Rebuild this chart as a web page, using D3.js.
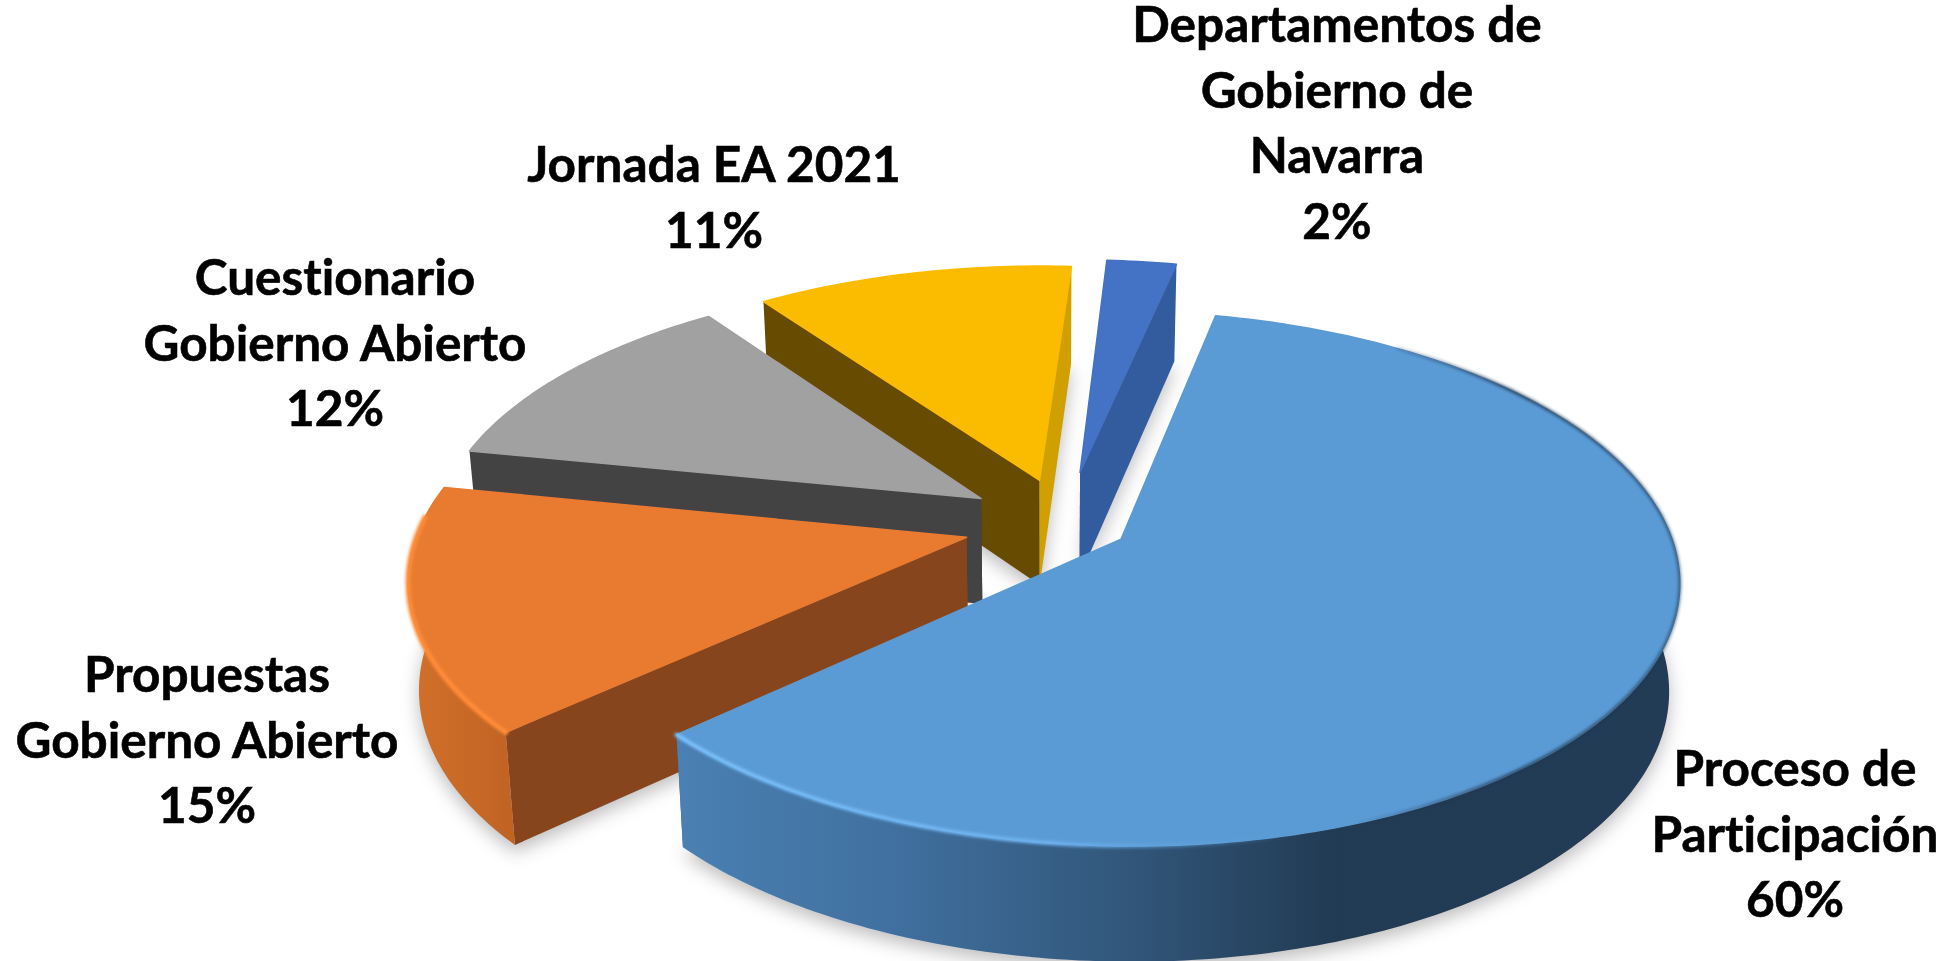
<!DOCTYPE html>
<html>
<head>
<meta charset="utf-8">
<script src="https://cdn.jsdelivr.net/npm/d3@7"></script>
<style>
  html, body { margin: 0; padding: 0; background: #fff; }
  svg { display: block; }
  text { font-family: Lato, "Open Sans", sans-serif; font-weight: 700; fill: #000; stroke: #000; stroke-width: 0.6; font-variant-ligatures: none; }
</style>
</head>
<body>
<div id="chart"></div>
<script>
// data, clockwise from the start of the big slice
const categories = ['Proceso de Participación', 'Propuestas Gobierno Abierto', 'Cuestionario Gobierno Abierto', 'Jornada EA 2021', 'Departamentos de Gobierno de Navarra'];
const shares = [59.8, 14.9, 12, 10.9, 2.4];
const labelLines = [
  ['Proceso de', 'Participación'],
  ['Propuestas', 'Gobierno Abierto'],
  ['Cuestionario', 'Gobierno Abierto'],
  ['Jornada EA 2021'],
  ['Departamentos de', 'Gobierno de', 'Navarra']
];

const topColors = ['#5b9bd5', '#e97b30', '#a1a1a1', '#fbbc00', '#4472c4'];
const startWall = ['#3b6a96', '#86451c', '#434343', '#664b00', '#335c9e'];
const endWall = ['#3b6a96', '#86451c', '#434343', '#cfa000', '#335c9e'];

// how far each slice is pulled out, in pie radii on the ground plane
const pullU = [0.125, -0.147, -0.124, -0.019, 0.055];
const pullV = [0.072, 0.065, -0.082, -0.154, -0.186];
// label anchor: centre x, first baseline
const labelX = [1795, 207, 335, 714, 1337];
const labelY = [786, 692, 295, 182, 42];

const width = 1950, height = 961;
const cx = 1050, cy = 520, rx = 562, ry = 264;
const persp = 0.15, depth = 106, depthPersp = 0.08, radius = 0.97, floorShrink = 0.983;
const lineGap = 65.5;

const svg = d3.select('#chart').append('svg').attr('width', width).attr('height', height);
const defs = svg.append('defs');
defs.append('filter').attr('id', 'soft').attr('x', '-20%').attr('y', '-20%').attr('width', '140%').attr('height', '140%')
  .append('feGaussianBlur').attr('stdDeviation', 9);
defs.append('filter').attr('id', 'edge').attr('x', '-5%').attr('y', '-5%').attr('width', '110%').attr('height', '110%')
  .append('feGaussianBlur').attr('stdDeviation', 1.6);

function hGradient(id, x1, x2, stops) {
  const g = defs.append('linearGradient').attr('id', id).attr('gradientUnits', 'userSpaceOnUse')
    .attr('x1', x1).attr('x2', x2).attr('y1', 0).attr('y2', 0);
  stops.forEach(s => g.append('stop').attr('offset', s[0]).attr('stop-color', s[1]).attr('stop-opacity', s.length > 2 ? s[2] : 1));
}
hGradient('wall0', 675, 1670, [[0, '#4a80b3'], [0.22, '#40709f'], [0.45, '#32577b'], [0.66, '#223b54'], [1, '#223c55']]);
hGradient('wall1', 410, 530, [[0, '#d2702a'], [1, '#bd6122']]);
hGradient('shine0', 675, 1300, [[0, '#7cc4ff'], [0.6, '#6fb3f0'], [1, '#5b9bd5', 0]]);
hGradient('shine1', 410, 530, [[0, '#ff8c38'], [1, '#ff8c38']]);
hGradient('rim0', 1350, 1670, [[0, '#1c3145', 0], [0.5, '#1c3145', 0.8], [1, '#1c3145', 0.6]]);

const x = d3.scaleLinear().domain([-1, 1]).range([cx - rx, cx + rx]);
const y = d3.scaleLinear().domain([-1, 1]).range([cy - ry, cy + ry]);

const pie = d3.pie().sort(null).startAngle(12.4 * Math.PI / 180).endAngle(372.4 * Math.PI / 180);
const arcs = pie(shares);
const line = d3.line();

// ground coordinates to the screen
function topPoint(u, v) {
  const k = 1 / (1 - persp * v);
  return [x(u * k), y(v * k)];
}
function bottomPoint(u, v) {
  const p = topPoint(u, v);
  return [cx + (p[0] - cx) * floorShrink, p[1] + depth / (1 - depthPersp * v)];
}
function rim(i, a0, a1, fn) {
  const n = Math.max(4, Math.round((a1 - a0) * 60));
  return d3.range(n + 1).map(j => {
    const a = a0 + (a1 - a0) * j / n;
    return fn(pullU[i] + radius * Math.sin(a), pullV[i] - radius * Math.cos(a));
  });
}
function apex(i, fn) { return fn(pullU[i], pullV[i]); }
function closed(pts) { return line(pts) + 'Z'; }

const order = d3.range(shares.length).reverse();

// soft shadow on the floor
const shadow = svg.append('g').attr('filter', 'url(#soft)');
order.forEach(i => {
  const d = arcs[i];
  shadow.append('path')
    .attr('d', closed([apex(i, bottomPoint)].concat(rim(i, d.startAngle, d.endAngle, bottomPoint))))
    .attr('transform', 'translate(0,7)')
    .attr('fill', '#000').attr('fill-opacity', 0.26);
});

// only the part of the rim that faces the viewer gets an outer wall
const frontFrom = 78 * Math.PI / 180, frontTo = 282 * Math.PI / 180;

order.forEach(i => {
  const d = arcs[i];
  const g = svg.append('g').attr('class', 'slice').attr('data-name', categories[i]);
  const topArc = rim(i, d.startAngle, d.endAngle, topPoint);
  const botArc = rim(i, d.startAngle, d.endAngle, bottomPoint);
  const last = topArc.length - 1;

  // the two cut faces
  g.append('path')
    .attr('d', closed([apex(i, topPoint), topArc[0], botArc[0], apex(i, bottomPoint)]))
    .attr('fill', startWall[i]);
  g.append('path')
    .attr('d', closed([apex(i, topPoint), topArc[last], botArc[last], apex(i, bottomPoint)]))
    .attr('fill', endWall[i]);
  // outer wall
  const a0 = Math.max(d.startAngle, frontFrom), a1 = Math.min(d.endAngle, frontTo);
  if (a1 - a0 > 0.1) {
    g.append('path')
      .attr('d', closed(rim(i, a0, a1, topPoint).concat(rim(i, a0, a1, bottomPoint).reverse())))
      .attr('fill', 'url(#wall' + i + ')');
  }
  // top face
  g.append('path')
    .attr('d', closed([apex(i, topPoint)].concat(topArc)))
    .attr('fill', topColors[i])
    .attr('stroke', topColors[i]).attr('stroke-width', 1.5).attr('stroke-linejoin', 'round');
});

// bevel light along the front rims
const bevel = svg.append('g').attr('fill', 'none').attr('stroke-linecap', 'round');
bevel.append('path')
  .attr('d', line(rim(0, arcs[0].startAngle + 0.4, arcs[0].endAngle, topPoint)))
  .attr('stroke', 'url(#rim0)').attr('stroke-width', 3).attr('filter', 'url(#edge)');
bevel.append('path')
  .attr('d', line(rim(0, arcs[0].startAngle + 1.6, arcs[0].endAngle, topPoint)))
  .attr('stroke', 'url(#shine0)').attr('stroke-width', 4).attr('filter', 'url(#edge)');
bevel.append('path')
  .attr('d', line(rim(1, arcs[1].startAngle, arcs[1].endAngle - 0.12, topPoint)))
  .attr('stroke', 'url(#shine1)').attr('stroke-width', 5).attr('filter', 'url(#edge)');

// labels
const fmt = d3.format('.0f');
labelLines.forEach((lines, i) => {
  const t = svg.append('text').attr('text-anchor', 'middle').attr('font-size', 49.5);
  lines.concat([fmt(shares[i]) + '%']).forEach((s, j) => {
    t.append('tspan').attr('x', labelX[i]).attr('y', labelY[i] + j * lineGap).text(s);
  });
});
</script>
</body>
</html>
